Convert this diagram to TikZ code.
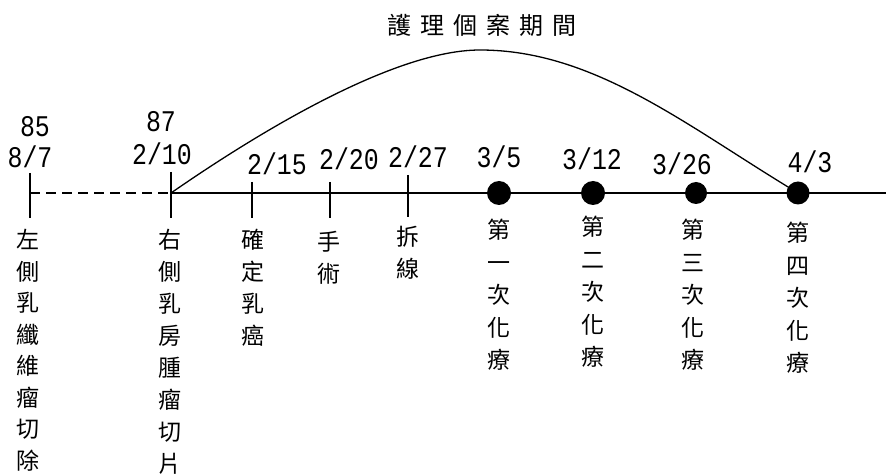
\documentclass[tikz,border=0pt]{standalone}
\usepackage{fontspec}
\newfontfamily\cjk{Noto Sans CJK TC}
\newfontfamily\cjktitle[LetterSpace=38]{Noto Sans CJK TC}
\newfontfamily\numfont[FakeStretch=0.83]{Liberation Mono}
\begin{document}
\begin{tikzpicture}[x=1pt,y=1pt,
  axis/.style={line width=2pt},
  tickline/.style={line width=2pt},
  dashaxis/.style={line width=2pt, dash pattern=on 10pt off 6pt},
  span/.style={line width=1.3pt},
  dot/.style={circle, fill=black, inner sep=0pt, minimum size=24pt},
  datelbl/.style={font=\numfont\fontsize{30}{30}\selectfont, anchor=base, inner sep=0pt},
  vlabel/.style={font=\cjk\fontsize{23}{32}\selectfont, align=center, anchor=north, inner sep=0pt},
  titlelbl/.style={font=\cjktitle\fontsize{24}{24}\selectfont, anchor=base, inner sep=0pt}]
\useasboundingbox (0,0) rectangle (886,474);

% axis event points
\coordinate (t0) at (30,281);
\coordinate (t1) at (171,281);
\coordinate (t2) at (252,281);
\coordinate (t3) at (330,281);
\coordinate (t4) at (408,281);
\coordinate (axend) at (886,281);
\coordinate (peak) at (480,424);

% tick ends
\coordinate (t0u) at (30,301);  \coordinate (t0d) at (30,256);
\coordinate (t1u) at (171,302); \coordinate (t1d) at (171,256);
\coordinate (t2u) at (252,292); \coordinate (t2d) at (252,256);
\coordinate (t3u) at (330,292); \coordinate (t3d) at (330,256);
\coordinate (t4u) at (408,299); \coordinate (t4d) at (408,257);

% dots positions
\coordinate (c1) at (499,281);
\coordinate (c2) at (593,281);
\coordinate (c3) at (696,281);
\coordinate (c4) at (798,281);

% span curve
\draw[span] (t1) .. controls (226,319) and (383,424) .. (peak)
                 .. controls (595,424) and (688,347) .. (c4);

% axis
\draw[dashaxis] (t0) -- (t1);
\draw[axis] (t1) -- (axend);

% ticks
\draw[tickline] (t0u) -- (t0d);
\draw[tickline] (t1u) -- (t1d);
\draw[tickline] (t2u) -- (t2d);
\draw[tickline] (t3u) -- (t3d);
\draw[tickline] (t4u) -- (t4d);

% dots
\node[dot] (d1) at (c1) {};
\node[dot] (d2) at (c2) {};
\node[dot, minimum size=22pt] (d3) at (c3) {};
\node[dot, minimum size=23pt] (d4) at (c4) {};

% title
\node[titlelbl] (title) at (482,439) {護理個案期間};

% date labels
\node[datelbl] (y85) at (35,337) {85};
\node[datelbl] (m87) at (30,306) {8/7};
\node[datelbl] (y87) at (161,342) {87};
\node[datelbl] (m210) at (162,309) {2/10};
\node[datelbl] (m215) at (277,299) {2/15};
\node[datelbl] (m220) at (349,304) {2/20};
\node[datelbl] (m227) at (418,306) {2/27};
\node[datelbl] (m35) at (499,306) {3/5};
\node[datelbl] (m312) at (592,304) {3/12};
\node[datelbl] (m326) at (682,299) {3/26};
\node[datelbl] (m43) at (810,301) {4/3};

% vertical event labels
\node[vlabel, font=\cjk\fontsize{23}{31.5}\selectfont] (l0) at (28,245) {左\\側\\乳\\纖\\維\\瘤\\切\\除};
\node[vlabel] (l1) at (170,245) {右\\側\\乳\\房\\腫\\瘤\\切\\片};
\node[vlabel] (l2) at (253,245) {確\\定\\乳\\癌};
\node[vlabel] (l3) at (329,243) {手\\術};
\node[vlabel] (l4) at (408,248) {拆\\線};
\node[vlabel, font=\cjk\fontsize{23}{32.5}\selectfont] (l5) at (499,255) {第\\一\\次\\化\\療};
\node[vlabel, font=\cjk\fontsize{23}{32.5}\selectfont] (l6) at (593,258) {第\\二\\次\\化\\療};
\node[vlabel, font=\cjk\fontsize{23}{32.5}\selectfont] (l7) at (693,255) {第\\三\\次\\化\\療};
\node[vlabel, font=\cjk\fontsize{23}{32.5}\selectfont] (l8) at (798,252) {第\\四\\次\\化\\療};
\end{tikzpicture}
\end{document}
